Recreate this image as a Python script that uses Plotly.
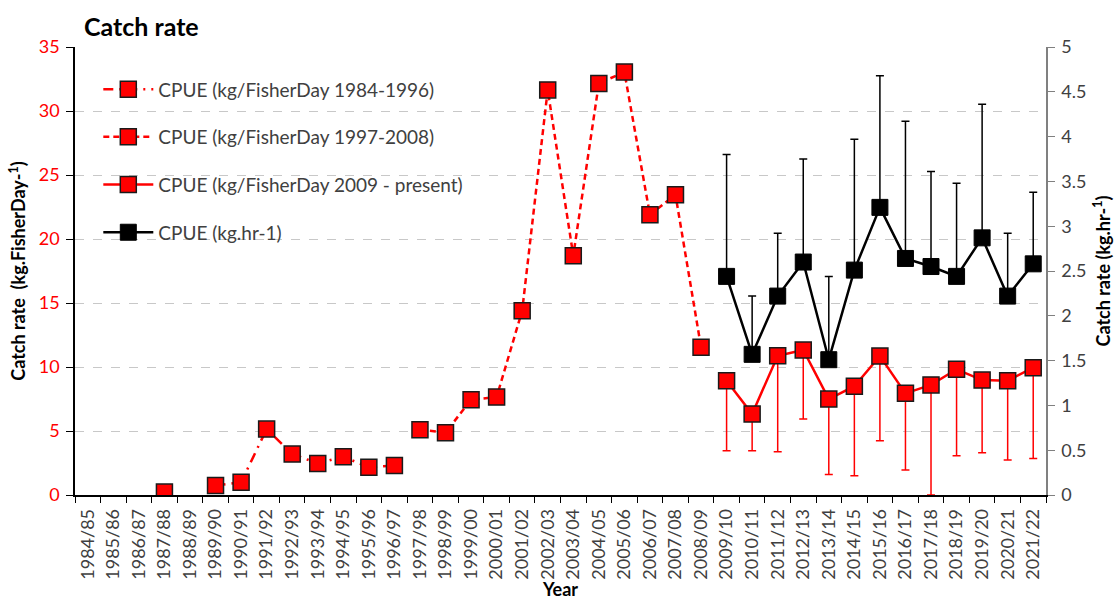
import plotly.graph_objects as go

years = ["1984/85","1985/86","1986/87","1987/88","1988/89","1989/90","1990/91","1991/92",
         "1992/93","1993/94","1994/95","1995/96","1996/97","1997/98","1998/99","1999/00",
         "2000/01","2001/02","2002/03","2003/04","2004/05","2005/06","2006/07","2007/08",
         "2008/09","2009/10","2010/11","2011/12","2012/13","2013/14","2014/15","2015/16",
         "2016/17","2017/18","2018/19","2019/20","2020/21","2021/22"]

# CPUE kg/FisherDay 1984-1996
years_s1 = years[0:13]
cpue_s1 = [None, None, None, 0.23, None, 0.75, 0.99, 5.15, 3.2, 2.47, 2.99, 2.17, 2.3]

# CPUE kg/FisherDay 1997-2008
years_s2 = years[13:25]
cpue_s2 = [5.1, 4.87, 7.45, 7.65, 14.4, 31.65, 18.7, 32.15, 33.05, 21.9, 23.45, 11.55]

# CPUE kg/FisherDay 2009 - present, with lower error bound
years_s3 = years[25:38]
cpue_s3 = [8.93, 6.33, 10.88, 11.33, 7.5, 8.5, 10.86, 7.94, 8.6, 9.82, 8.98, 8.93, 9.95]
cpue_s3_low = [3.46, 3.46, 3.38, 5.94, 1.6, 1.51, 4.24, 1.95, 0.0, 3.07, 3.3, 2.73, 2.86]

# CPUE kg.hr-1 (right axis), with upper error bound
cpue_hr = [2.44, 1.57, 2.22, 2.60, 1.51, 2.51, 3.21, 2.64, 2.55, 2.44, 2.87, 2.22, 2.58]
cpue_hr_high = [3.80, 2.22, 2.92, 3.75, 2.44, 3.97, 4.68, 4.17, 3.61, 3.48, 4.36, 2.92, 3.38]

FONT = "Lato"
RED = "#FF0000"
marker_red = dict(symbol="square", size=16, color=RED, line=dict(color="#1a1a1a", width=1.5))

fig = go.Figure()

fig.add_trace(go.Scatter(
    x=years_s1, y=cpue_s1, mode="lines+markers", name="CPUE (kg/FisherDay 1984-1996)",
    line=dict(color=RED, width=2.5, dash="10px,6px,2px,6px"), marker=marker_red,
    connectgaps=False, legendgroup="a"))

fig.add_trace(go.Scatter(
    x=years_s2, y=cpue_s2, mode="lines+markers", name="CPUE (kg/FisherDay 1997-2008)",
    line=dict(color=RED, width=2.5, dash="6px,4px"), marker=marker_red, legendgroup="b"))

fig.add_trace(go.Scatter(
    x=years_s3, y=cpue_s3, mode="lines+markers", name="CPUE (kg/FisherDay 2009 - present)",
    line=dict(color=RED, width=2.5), marker=marker_red, legendgroup="c",
    error_y=dict(type="data", symmetric=False,
                 array=[0] * len(cpue_s3),
                 arrayminus=[v - lo for v, lo in zip(cpue_s3, cpue_s3_low)],
                 color=RED, thickness=1.5, width=4)))

fig.add_trace(go.Scatter(
    x=years_s3, y=cpue_hr, mode="lines+markers", name="CPUE (kg.hr-1)", yaxis="y2",
    line=dict(color="black", width=2.5),
    marker=dict(symbol="square", size=16, color="black", line=dict(color="black", width=1)),
    legendgroup="d",
    error_y=dict(type="data", symmetric=False,
                 array=[hi - v for v, hi in zip(cpue_hr, cpue_hr_high)],
                 arrayminus=[0] * len(cpue_hr),
                 color="black", thickness=1.5, width=4)))

fig.update_layout(
    width=1114, height=600,
    margin=dict(l=75, r=68, t=47, b=105),
    paper_bgcolor="white", plot_bgcolor="white",
    font=dict(family=FONT, color="#404040"),
    title=dict(text="<b>Catch rate</b>", x=84/1114, xref="container", xanchor="left",
               y=1-27/600, yanchor="middle", font=dict(size=25, color="black", family=FONT)),
    showlegend=True,
    legend=dict(x=0.024, y=0.948, xanchor="left", yanchor="top", traceorder="grouped",
                tracegroupgap=20, font=dict(size=19, color="#404040"),
                bgcolor="rgba(255,255,255,0)", itemwidth=50),
    xaxis=dict(type="category", categoryorder="array", categoryarray=years,
               tickson="boundaries", ticks="outside", ticklen=6, tickcolor="black",
               tickangle=-90, tickfont=dict(size=18, color="#404040"),
               showline=True, linecolor="black", linewidth=1.5, showgrid=False,
               range=[-0.5, 37.5], automargin=False, ticklabelstandoff=5,
               title=dict(text="<b>Year</b>", font=dict(size=18, color="black"), standoff=16)),
    yaxis=dict(range=[0, 35], dtick=5, ticks="outside", ticklen=7, tickcolor="black",
               tickfont=dict(size=18, color=RED), showline=True, linecolor="black", linewidth=1.5,
               showgrid=True, gridcolor="#c8c8c8", griddash="dash", gridwidth=1,
               zeroline=False, automargin=False, ticklabelstandoff=3,
               title=dict(text="<b>Catch rate  (kg.FisherDay-<sup>1</sup>)</b>",
                          font=dict(size=18, color="black"), standoff=8)),
    yaxis2=dict(range=[0, 5], dtick=0.5, overlaying="y", side="right", ticks="outside",
                ticklen=7, tickcolor="#808080", tickfont=dict(size=18, color="#404040"),
                showline=True, linecolor="#808080", linewidth=1.5, showgrid=False, zeroline=False,
                automargin=False, ticklabelstandoff=3,
                title=dict(text="<b>Catch rate (kg.hr-<sup>1</sup>)</b>",
                           font=dict(size=18, color="black"), standoff=22)),
)

fig.write_html("out.html", post_script="document.body.style.margin='0';",
               config={"displayModeBar": False})
